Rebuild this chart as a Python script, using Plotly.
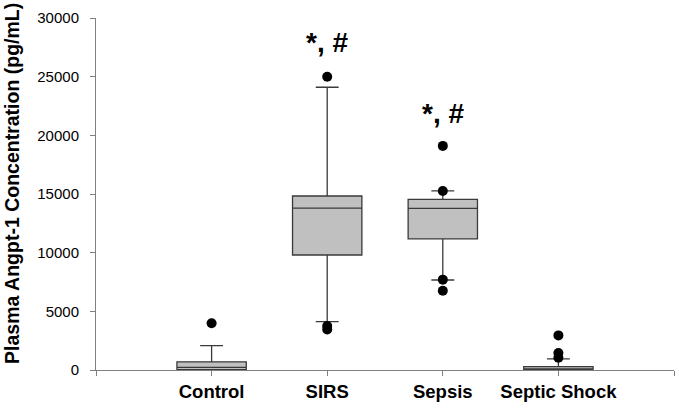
import plotly.graph_objects as go

categories = ["Control", "SIRS", "Sepsis", "Septic Shock"]
q1 = [30, 9800, 11170, 0]
median = [230, 13800, 13780, 50]
q3 = [700, 14830, 14550, 280]
lower_fence = [0, 4120, 7670, 0]
upper_fence = [2070, 24100, 15260, 940]
outliers = [
    [3980],
    [25000, 3750, 3450],
    [19100, 15260, 7700, 6760],
    [2950, 1450, 1050],
]
sig_labels = ["", "*, #", "*, #", ""]
sig_y = [None, 27950, 21900, None]
y_ticks = [0, 5000, 10000, 15000, 20000, 25000, 30000]
y_title = "Plasma Angpt-1 Concentration (pg/mL)"

xpos = list(range(len(categories)))

fig = go.Figure()
fig.add_trace(go.Box(
    x=xpos, q1=q1, median=median, q3=q3,
    lowerfence=lower_fence, upperfence=upper_fence,
    width=0.6, whiskerwidth=0.33,
    fillcolor="#c0c0c0",
    line=dict(color="#3a3a3a", width=1.3),
    boxpoints=False, showlegend=False,
))

ox, oy = [], []
for i, pts in enumerate(outliers):
    for v in pts:
        ox.append(xpos[i])
        oy.append(v)
fig.add_trace(go.Scatter(
    x=ox, y=oy, mode="markers",
    marker=dict(color="black", size=10),
    showlegend=False, hoverinfo="skip",
))

for i, (lab, yv) in enumerate(zip(sig_labels, sig_y)):
    if lab:
        fig.add_annotation(x=xpos[i], y=yv, text="<b>" + lab + "</b>",
                           showarrow=False, yanchor="middle",
                           font=dict(family="Liberation Sans, Arial", size=28, color="black"))

fig.add_annotation(
    xref="paper", yref="paper", x=-0.1445, y=0.53,
    text="<b>" + y_title + "</b>", textangle=-90, showarrow=False,
    xanchor="center", yanchor="middle",
    font=dict(family="Liberation Sans, Arial", size=19.5, color="black"),
)

fig.update_layout(
    width=679, height=409,
    margin=dict(l=96, r=5, t=18, b=39, autoexpand=False),
    paper_bgcolor="white", plot_bgcolor="white",
    font=dict(family="Liberation Sans, Arial", color="black"),
)
fig.update_xaxes(
    range=[-1, 4], automargin=False,
    tickvals=list(range(-1, len(categories) + 1)),
    ticktext=[""] + ["<b>" + c + "</b>" for c in categories] + [""],
    tickfont=dict(size=18.5, color="black"),
    ticks="outside", ticklen=5, tickcolor="#808080",
    showline=True, linecolor="#808080", linewidth=1,
    showgrid=False, zeroline=False,
)
fig.update_yaxes(
    range=[0, 30000], automargin=False,
    tickvals=y_ticks,
    ticktext=[str(v) for v in y_ticks],
    tickfont=dict(size=15, color="black"),
    ticks="outside", ticklen=5, tickcolor="#808080",
    showline=True, linecolor="#808080", linewidth=1,
    showgrid=False, zeroline=False,
    ticklabelstandoff=8,
)

fig.write_html(
    "out.html",
    config={"displayModeBar": False},
    post_script="document.body.style.margin='0';document.body.style.overflow='hidden';",
)
